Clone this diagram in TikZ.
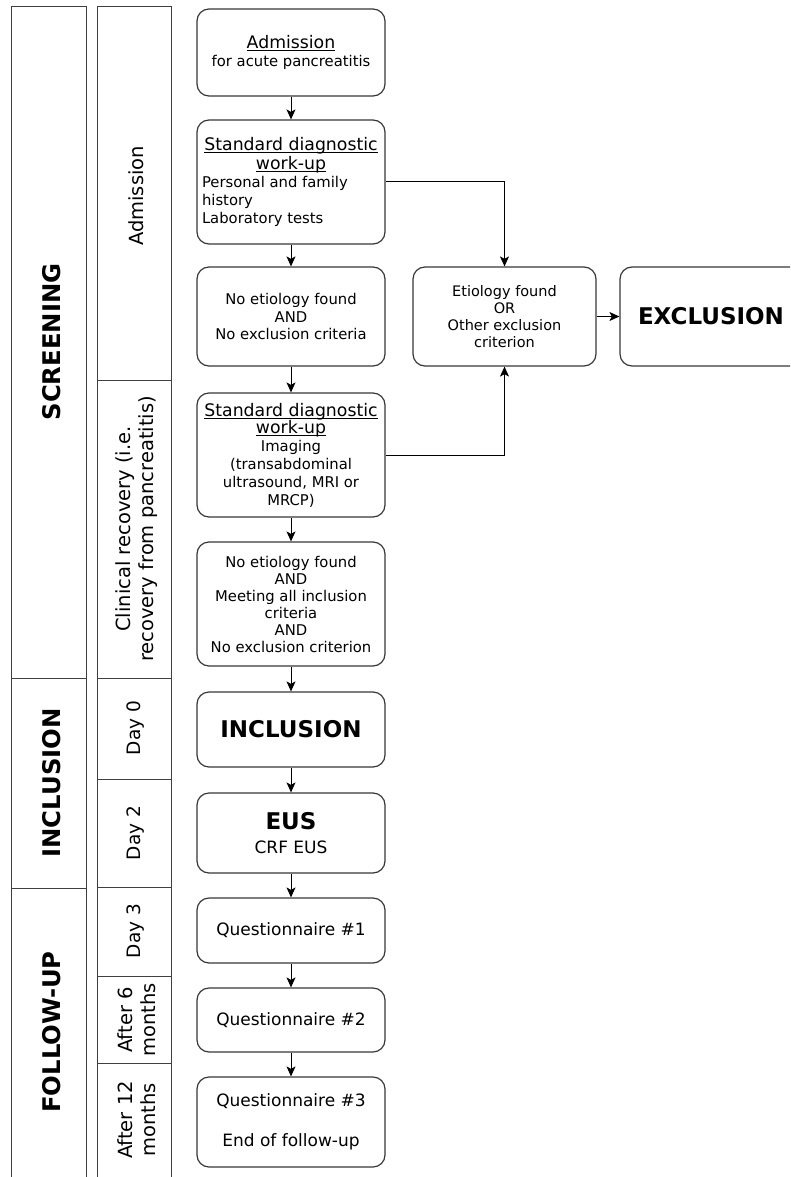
\documentclass[tikz,border=0pt]{standalone}
\usepackage{fontspec}
\setmainfont{DejaVu Sans}
\usetikzlibrary{arrows.meta}
\newcommand\fsbody{\fontsize{14.8}{17.8}\selectfont}
\newcommand\fshdr{\fontsize{17.3}{19}\selectfont}
\newcommand\fsq{\fontsize{17}{20}\selectfont}
\newcommand\fsbig{\bfseries\fontsize{23}{26}\selectfont}
\newcommand\fscol{\fontsize{19.5}{23}\selectfont}
\newcommand\fsday{\fontsize{18.5}{23}\selectfont}
\newcommand\fsside{\bfseries\fontsize{24.3}{28}\selectfont}
\newcommand\hul[1]{\leavevmode\setbox0\hbox{#1}\rlap{\rule[-2.2pt]{\wd0}{0.8pt}}\box0}
\definecolor{boxc}{gray}{0.22}
\definecolor{linec}{gray}{0.25}
\begin{document}
\begin{tikzpicture}[x=1pt,y=-1pt,
  box/.style={draw=boxc, line width=1.2pt, rounded corners=12pt, minimum width=188pt,
    inner sep=0pt, align=center, font=\fsbody, text=black},
  side/.style={draw=linec, line width=1pt},
  sidetext/.style={rotate=90, font=\fsside, inner sep=0pt},
  coltext/.style={rotate=90, font=\fscol, inner sep=0pt, align=center},
  daytext/.style={rotate=90, font=\fsday, inner sep=0pt, align=center},
  arr/.style={draw=black, line width=1pt, -{Stealth[length=10pt,width=9pt,inset=2.5pt]}}]
\useasboundingbox (0,0) rectangle (790,1177);
\clip (0,0) rectangle (790,1177);
\fill[white] (0,0) rectangle (790,1177);

% left phase column
\draw[side] (11,7) rectangle (86,678);
\draw[side] (11,678) rectangle (86,888);
\draw[side] (11,888) rectangle (86,1195);
\node[sidetext] (pscr) at (52,342) {SCREENING};
\node[sidetext] (pinc) at (52,783) {INCLUSION};
\node[sidetext] (pfol) at (52,1032) {FOLLOW-UP};

% timing column
\draw[side] (97,7) rectangle (171,380);
\draw[side] (97,380) rectangle (171,678);
\draw[side] (97,678) rectangle (171,779);
\draw[side] (97,779) rectangle (171,887);
\draw[side] (97,887) rectangle (171,976);
\draw[side] (97,976) rectangle (171,1063);
\draw[side] (97,1063) rectangle (171,1195);
\node[coltext] (tadm) at (136,196) {Admission};
\node[coltext] (tcli) at (137,529) {Clinical recovery (i.e.\\recovery from pancreatitis)};
\node[daytext] (td0) at (136,728) {Day 0};
\node[daytext] (td2) at (136,833) {Day 2};
\node[daytext] (td3) at (136,931) {Day 3};
\node[coltext] (t6m) at (137,1020) {After 6\\months};
\node[coltext] (t12m) at (137,1120) {After 12\\months};

% main flow
\node[box, minimum height=87pt] (b1) at (291,52.5)
  {{\fshdr\hul{Admission}}\\for acute pancreatitis};
\node[box, minimum height=124pt] (b2) at (291,182)
  {\parbox{178pt}{\centering{\fshdr\hul{Standard diagnostic}\\\hul{work-up}\par}\raggedright
   Personal and family\\history\\Laboratory tests}};
\node[box, minimum height=99pt] (b3) at (291,316.5)
  {No etiology found\\AND\\No exclusion criteria};
\node[box, minimum height=124pt] (b4) at (291,455)
  {{\fshdr\hul{Standard diagnostic}}\\{\fshdr\hul{work-up}}\\Imaging\\(transabdominal\\ultrasound, MRI or\\MRCP)};
\node[box, minimum height=124pt, font=\fontsize{14.8}{17}\selectfont] (b5) at (291,604)
  {No etiology found\\AND\\Meeting all inclusion\\criteria\\AND\\No exclusion criterion};
\node[box, minimum height=75pt, font=\fsbig] (b6) at (291,729.5) {INCLUSION};
\node[box, minimum height=80pt, font=\fsq] (b7) at (291,833) {{\fsbig EUS}\\[4pt]CRF EUS};
\node[box, minimum height=65pt, font=\fsq] (b8) at (291,930.5) {Questionnaire \#1};
\node[box, minimum height=64pt, font=\fsq] (b9) at (291,1020) {Questionnaire \#2};
\node[box, minimum height=90pt, font=\fsq] (b10) at (291,1122) {Questionnaire \#3\\[20pt]End of follow-up};

% exclusion branch
\node[box, minimum width=183pt, minimum height=99pt, font=\fontsize{14.5}{16.8}\selectfont] (etio) at (504.5,316.5)
  {Etiology found\\OR\\Other exclusion\\criterion};
\node[box, minimum width=182pt, minimum height=99pt, font=\fsbig] (excl) at (711,316.5) {EXCLUSION};

% connectors
\draw[arr] (b1) -- (b2);
\draw[arr] (b2) -- (b3);
\draw[arr] (b3) -- (b4);
\draw[arr] (b4) -- (b5);
\draw[arr] (b5) -- (b6);
\draw[arr] (b6) -- (b7);
\draw[arr] (b7) -- (b8);
\draw[arr] (b8) -- (b9);
\draw[arr] (b9) -- (b10);
\draw[arr] (b2.east) -| (etio.north);
\draw[arr] (b4.east) -| (etio.south);
\draw[arr] (etio) -- (excl);
\end{tikzpicture}
\end{document}
